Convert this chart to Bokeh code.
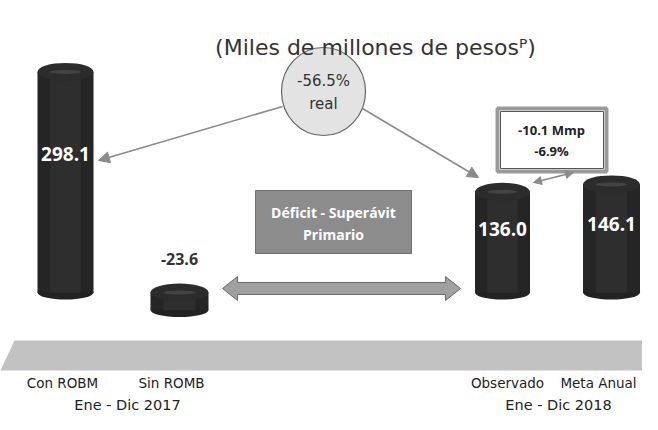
from bokeh.plotting import figure
from bokeh.models import Range1d, Label, Arrow, NormalHead, ColumnDataSource
from bokeh.core.properties import value
from bokeh.embed import file_html
from bokeh.resources import INLINE

# ---- data ----
categories = ["Con ROBM", "Sin ROMB", "Observado", "Meta Anual"]
values = [298.1, -23.6, 136.0, 146.1]
value_labels = ["298.1", "-23.6", "136.0", "146.1"]
periods = ["Ene - Dic 2017", "Ene - Dic 2018"]
title_text = "(Miles de millones de pesosᴾ)"
change_real = ["-56.5%", "real"]
gap_text = ["-10.1 Mmp", "-6.9%"]
box_text = ["Déficit - Superávit", "Primario"]

# ---- layout helpers ----
S = 0.74      # px per unit
BASE = 292    # reference y of zero
def Y(yref):
    return (BASE - yref) / S

W, H = 642, 414
p = figure(width=W, height=H, output_backend="svg", toolbar_location=None,
           x_range=Range1d(0, W), y_range=Range1d(Y(H), Y(0)),
           min_border=0, outline_line_color=None)
p.axis.visible = False
p.grid.visible = False
p.background_fill_color = "white"
p.border_fill_color = "white"

FONT = "DejaVu Sans"
BFONT = "Open Sans"

# floor
p.patch([0, 14, 650, 660, 0], [Y(370), Y(340), Y(340), Y(370), Y(370)],
        fill_color="#c2c2c2", line_color=None)

# bars (cylinders)
xs = [65, 179, 502, 611]
ws = [56, 58, 55, 57]
tops = [max(v, 0) for v in values]
bots = [min(v, 0) for v in values]
src = ColumnDataSource(dict(x=xs, w=ws, top=tops, bot=bots))
p.ellipse(x="x", y="bot", width="w", height=14, height_units="screen",
          source=src, fill_color="#222222", line_color=None)
p.vbar(x="x", width="w", top="top", bottom="bot", source=src,
       fill_color="#252525", line_color=None)
src2 = ColumnDataSource(dict(x=xs, w=[w * 0.55 for w in ws], top=tops, bot=bots))
p.vbar(x="x", width="w", top="top", bottom="bot", source=src2,
       fill_color="#2e2e2e", line_color=None)
p.ellipse(x="x", y="top", width="w", height=18, height_units="screen",
          source=src, fill_color="#2c2c2c", line_color=None)
p.ellipse(x="x", y="top", width="w", height=4, height_units="screen",
          source=src2, fill_color="#4a4a4a", line_color=None, fill_alpha=0.8)

# value labels
for x, v, t in zip(xs, values, value_labels):
    if v > 0:
        p.add_layout(Label(x=x, y=v * 0.63, text=t, text_align="center",
                           text_baseline="middle", text_color="white",
                           text_font=BFONT, text_font_style="bold",
                           text_font_size="19px"))
    else:
        p.add_layout(Label(x=x, y=Y(258), text=t, text_align="center",
                           text_baseline="middle", text_color="#333333",
                           text_font=BFONT, text_font_style="bold",
                           text_font_size="16px"))

# category labels
cat_x = [62, 171, 507, 598]
for x, c in zip(cat_x, categories):
    p.add_layout(Label(x=x, y=Y(382), text=c, text_align="center",
                       text_baseline="middle", text_color="#222222",
                       text_font=FONT, text_font_size="13.5px"))
for x, t in zip([127, 558], periods):
    p.add_layout(Label(x=x, y=Y(404), text=t, text_align="center",
                       text_baseline="middle", text_color="#222222",
                       text_font=FONT, text_font_size="14.5px"))

# title
p.add_layout(Label(x=375, y=Y(47), text=title_text, text_align="center",
                   text_baseline="middle", text_color="#333333",
                   text_font=FONT, text_font_size="22px"))

# circle with real change
p.add_layout(Arrow(x_start=282, y_start=Y(106), x_end=98, y_end=Y(160),
                   line_color="#8a8a8a", line_width=1.5,
                   end=NormalHead(size=11, fill_color="#8a8a8a", line_color="#8a8a8a")))
p.add_layout(Arrow(x_start=362, y_start=Y(108), x_end=478, y_end=Y(177),
                   line_color="#8a8a8a", line_width=1.5,
                   end=NormalHead(size=11, fill_color="#8a8a8a", line_color="#8a8a8a")))
p.ellipse(x=[323], y=[Y(91)], width=[84], height=[88], height_units="screen",
          fill_color="#e3e3e3", line_color="#666666", line_width=1.2)
p.add_layout(Label(x=323, y=Y(80), text=change_real[0], text_align="center",
                   text_baseline="middle", text_color="#333333",
                   text_font=FONT, text_font_size="15px"))
p.add_layout(Label(x=323, y=Y(103), text=change_real[1], text_align="center",
                   text_baseline="middle", text_color="#333333",
                   text_font=FONT, text_font_size="15px"))

# gray box
p.quad(left=[255], right=[411], top=[Y(190)], bottom=[Y(253)],
       fill_color="#8c8c8c", line_color="#707070", line_width=1)
p.add_layout(Label(x=333, y=Y(212), text=box_text[0], text_align="center",
                   text_baseline="middle", text_color="white",
                   text_font=BFONT, text_font_style="bold", text_font_size="14px"))
p.add_layout(Label(x=333, y=Y(234), text=box_text[1], text_align="center",
                   text_baseline="middle", text_color="white",
                   text_font=BFONT, text_font_style="bold", text_font_size="14px"))

# thick double arrow
ax0, ax1, ay = 222, 460, 288
sh, hh, hl = 6, 12, 15
p.patch([ax0, ax0 + hl, ax0 + hl, ax1 - hl, ax1 - hl, ax1, ax1 - hl, ax1 - hl, ax0 + hl, ax0 + hl, ax0],
        [Y(ay), Y(ay - hh), Y(ay - sh), Y(ay - sh), Y(ay - hh), Y(ay), Y(ay + hh), Y(ay + sh), Y(ay + sh), Y(ay + hh), Y(ay)],
        fill_color="#a0a0a0", line_color="#6a6a6a", line_width=1)

# gap box
p.quad(left=[497], right=[606], top=[Y(108)], bottom=[Y(171)],
       fill_color="white", line_color="#9a9a9a", line_width=4)
p.quad(left=[500], right=[603], top=[Y(111)], bottom=[Y(168)],
       fill_color="white", line_color="#555555", line_width=1)
p.add_layout(Label(x=551, y=Y(129), text=gap_text[0], text_align="center",
                   text_baseline="middle", text_color="#222222",
                   text_font=BFONT, text_font_style="bold", text_font_size="13px"))
p.add_layout(Label(x=551, y=Y(150), text=gap_text[1], text_align="center",
                   text_baseline="middle", text_color="#222222",
                   text_font=BFONT, text_font_style="bold", text_font_size="13px"))

# small double arrow
p.add_layout(Arrow(x_start=533, y_start=Y(182), x_end=573, y_end=Y(172),
                   line_color="#8a8a8a", line_width=1.5,
                   start=NormalHead(size=8, fill_color="#8a8a8a", line_color="#8a8a8a"),
                   end=NormalHead(size=8, fill_color="#8a8a8a", line_color="#8a8a8a")))

open("out.html", "w").write(file_html(p, INLINE))
